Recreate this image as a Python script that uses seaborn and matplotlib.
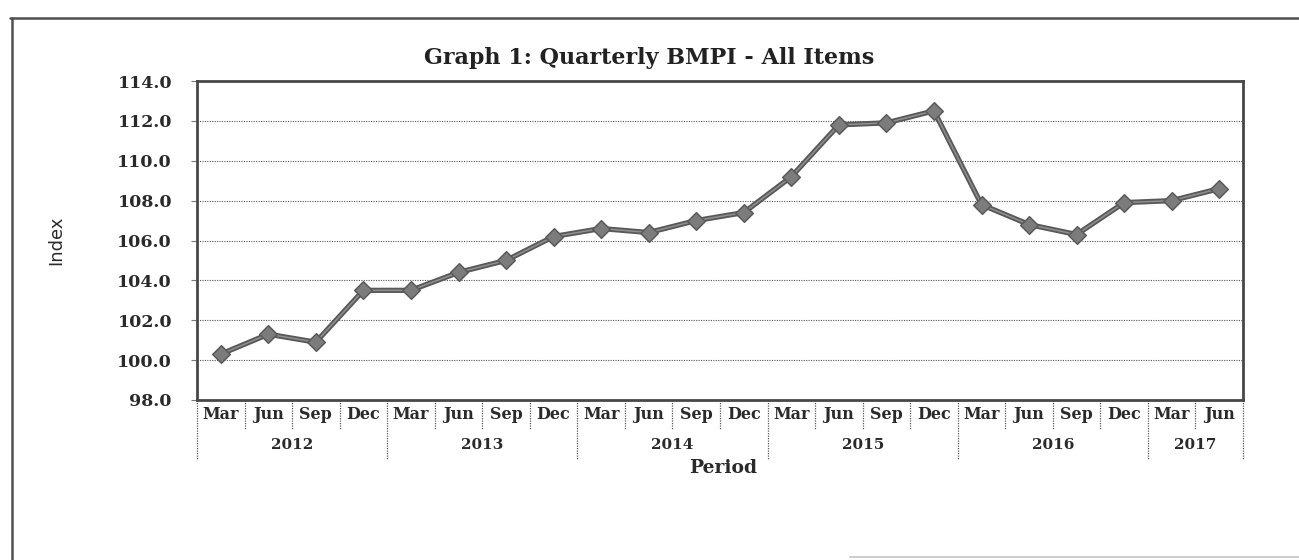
import pandas as pd
import matplotlib
matplotlib.use("Agg")
import matplotlib.pyplot as plt
import matplotlib.transforms as mtransforms
from matplotlib.lines import Line2D
import seaborn as sns

# Data
months = ["Mar", "Jun", "Sep", "Dec"] * 5 + ["Mar", "Jun"]
years = ["2012", "2013", "2014", "2015", "2016", "2017"]
quarters_per_year = [4, 4, 4, 4, 4, 2]
bmpi = [100.3, 101.3, 100.9, 103.5, 103.5, 104.4, 105.0, 106.2,
        106.6, 106.4, 107.0, 107.4, 109.2, 111.8, 111.9, 112.5,
        107.8, 106.8, 106.3, 107.9, 108.0, 108.6]
y_ticks = [98.0, 100.0, 102.0, 104.0, 106.0, 108.0, 110.0, 112.0, 114.0]

year_col = [y for y, n in zip(years, quarters_per_year) for _ in range(n)]
df = pd.DataFrame({"period": [f"{m} {y}" for m, y in zip(months, year_col)],
                   "bmpi": bmpi})

sns.set_theme(style="white")
plt.rcParams["font.family"] = ["DejaVu Serif", "DejaVu Sans"]

W, H = 1299, 560
fig = plt.figure(figsize=(W / 100, H / 100), dpi=100)
ax = fig.add_axes([197 / W, 1 - 400 / H, 1046 / W, 319 / H])

# line (dark outer + lighter core) and diamond markers
sns.lineplot(data=df, x="period", y="bmpi", ax=ax, sort=False,
             color="#595959", lw=3.8, zorder=3)
sns.lineplot(data=df, x="period", y="bmpi", ax=ax, sort=False,
             color="#909090", lw=1.1, zorder=4)
sns.scatterplot(data=df, x="period", y="bmpi", ax=ax, marker="D", s=80,
                color="#7c7c7c", edgecolor="#5a5a5a", linewidth=1.1, zorder=5)

ax.set_xlim(-0.5, len(months) - 0.5)
ax.set_ylim(98, 114)
ax.set_yticks(y_ticks)
ax.set_yticklabels([f"{v:.1f}" for v in y_ticks], fontsize=12.5, fontweight="bold",
                   color="#2a2a2a")
ax.set_xticks(range(len(months)))
ax.set_xticklabels(months, fontsize=11.5, fontweight="bold", color="#2a2a2a")
ax.tick_params(axis="x", length=0, pad=4)
ax.tick_params(axis="y", length=4, width=0.8, color="#777777", pad=14, left=True)

ax.yaxis.grid(True, linestyle=(0, (1, 1.2)), color="#555555", lw=0.8)
ax.xaxis.grid(False)
for sp in ax.spines.values():
    sp.set_color("#484848")
    sp.set_linewidth(2.0)

# two-level category separators and year labels
trans = mtransforms.blended_transform_factory(ax.transData, ax.transAxes)
year_edges = [0]
for n in quarters_per_year:
    year_edges.append(year_edges[-1] + n)
for b in range(len(months) + 1):
    low = -0.188 if b in year_edges else -0.09
    ax.add_line(Line2D([b - 0.5, b - 0.5], [0, low], transform=trans,
                       color="#5a5a5a", lw=0.9, linestyle=(0, (1, 1)),
                       clip_on=False))
for y, a, b in zip(years, year_edges[:-1], year_edges[1:]):
    ax.text((a + b - 1) / 2, -0.141, y, transform=trans, ha="center",
            va="center", fontsize=11, fontweight="bold", color="#2a2a2a")

ax.set_xlabel("Period", fontsize=13.5, fontweight="bold", color="#2a2a2a")
ax.xaxis.set_label_coords(0.503, -0.213)
ax.xaxis.label.set_va("center")
ax.set_ylabel("Index", fontsize=13, color="#2a2a2a",
              family=["Liberation Sans Narrow", "DejaVu Sans"])
ax.yaxis.set_label_coords(-0.126, 0.5)

fig.text(0.5, 1 - 58 / H, "Graph 1: Quarterly BMPI - All Items", ha="center",
         va="center", fontsize=16, fontweight="bold", color="#222222")

# outer frame of the scanned page
fig.add_artist(Line2D([10 / W, 1], [1 - 18 / H] * 2, transform=fig.transFigure,
                      color="#505050", lw=1.8))
fig.add_artist(Line2D([12 / W] * 2, [0, 1 - 18 / H], transform=fig.transFigure,
                      color="#505050", lw=1.8))
fig.add_artist(Line2D([850 / W, 1], [1 - 557 / H] * 2, transform=fig.transFigure,
                      color="#c4c4c4", lw=1.2))

fig.savefig("out.png", dpi=100)
